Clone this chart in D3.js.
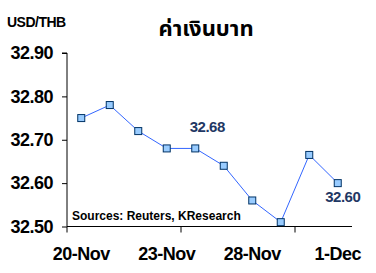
<!DOCTYPE html>
<html><head><meta charset="utf-8">
<script src="https://cdn.jsdelivr.net/npm/d3@7"></script>
<style>
html,body{margin:0;padding:0;background:#fff;}
svg{display:block;}
text{font-family:"Liberation Sans",Arial,sans-serif;font-weight:bold;}
</style></head>
<body>
<script>
const categories = ["20-Nov","21-Nov","22-Nov","23-Nov","24-Nov","25-Nov","28-Nov","29-Nov","30-Nov","1-Dec"];
const values = [32.75,32.78,32.72,32.68,32.68,32.64,32.56,32.51,32.665,32.60];
const xTickLabels = ["20-Nov","23-Nov","28-Nov","1-Dec"];
const yTicks = [32.5,32.6,32.7,32.8,32.9];
const annotated = [{i:4,text:"32.68",above:true},{i:9,text:"32.60",above:false}];
const title = "ค่าเงินบาท";
const unitLabel = "USD/THB";
const source = "Sources: Reuters, KResearch";

const W=376,H=273;
const svg=d3.select("body").append("svg").attr("width",W).attr("height",H);
const L=67,R=352,T=53,B=226.5;
const x=d3.scaleBand().domain(categories).range([L,R]);
const y=d3.scaleLinear().domain([32.5,32.9]).range([B,T]);

// y axis
const yAx=svg.append("g").attr("transform",`translate(${L},0)`)
  .call(d3.axisLeft(y).tickValues(yTicks).tickFormat(d3.format(".2f")).tickSize(5).tickPadding(9));
yAx.select(".domain").attr("stroke","#000").attr("d",`M-5,${y(32.9)}H0V${B}`);
yAx.selectAll("text").attr("font-size",18).attr("fill","#000").attr("letter-spacing",-0.5);

// x axis
const tickCats=[categories[0],categories[4],categories[8]];
const xAx=svg.append("g").attr("transform",`translate(0,${B})`);
xAx.append("line").attr("x1",L).attr("x2",R).attr("stroke","#000");
xAx.selectAll("line.t").data(tickCats).join("line").attr("class","t")
  .attr("x1",d=>x(d)).attr("x2",d=>x(d)).attr("y1",0).attr("y2",6).attr("stroke","#000");
xAx.selectAll("text").data(xTickLabels).join("text")
  .attr("x",d=>x(d)+x.bandwidth()/2).attr("y",33)
  .attr("text-anchor","middle").attr("font-size",18).attr("letter-spacing",-0.5).text(d=>d);

// line
const cx=d=>x(d)+x.bandwidth()/2;
svg.append("path").datum(values)
  .attr("fill","none").attr("stroke","#3366FF").attr("stroke-width",1)
  .attr("d",d3.line().x((d,i)=>cx(categories[i])).y(d=>y(d)));
svg.selectAll("rect.m").data(values).join("rect").attr("class","m")
  .attr("x",(d,i)=>cx(categories[i])-3.5).attr("y",d=>y(d)-3.5)
  .attr("width",7).attr("height",7)
  .attr("fill","#99CCFF").attr("stroke","#003366").attr("stroke-width",1);

// annotations
svg.selectAll("text.a").data(annotated).join("text").attr("class","a")
  .attr("x",d=>cx(categories[d.i])+(d.above?12:5))
  .attr("y",d=>d.above? y(values[d.i])-16 : y(values[d.i])+19)
  .attr("text-anchor","middle").attr("font-size",15).attr("letter-spacing",-0.5)
  .attr("fill","#1F3864").text(d=>d.text);

// titles
svg.append("text").attr("x",206).attr("y",36).attr("text-anchor","middle")
  .attr("font-size",22).style("font-family","'Noto Sans Thai','Tahoma','DejaVu Sans',sans-serif")
  .text(title);
svg.append("text").attr("x",7).attr("y",27).attr("font-size",14).attr("letter-spacing",-0.5).text(unitLabel);
svg.append("text").attr("x",72).attr("y",220).attr("font-size",12).text(source);
</script>
</body></html>
